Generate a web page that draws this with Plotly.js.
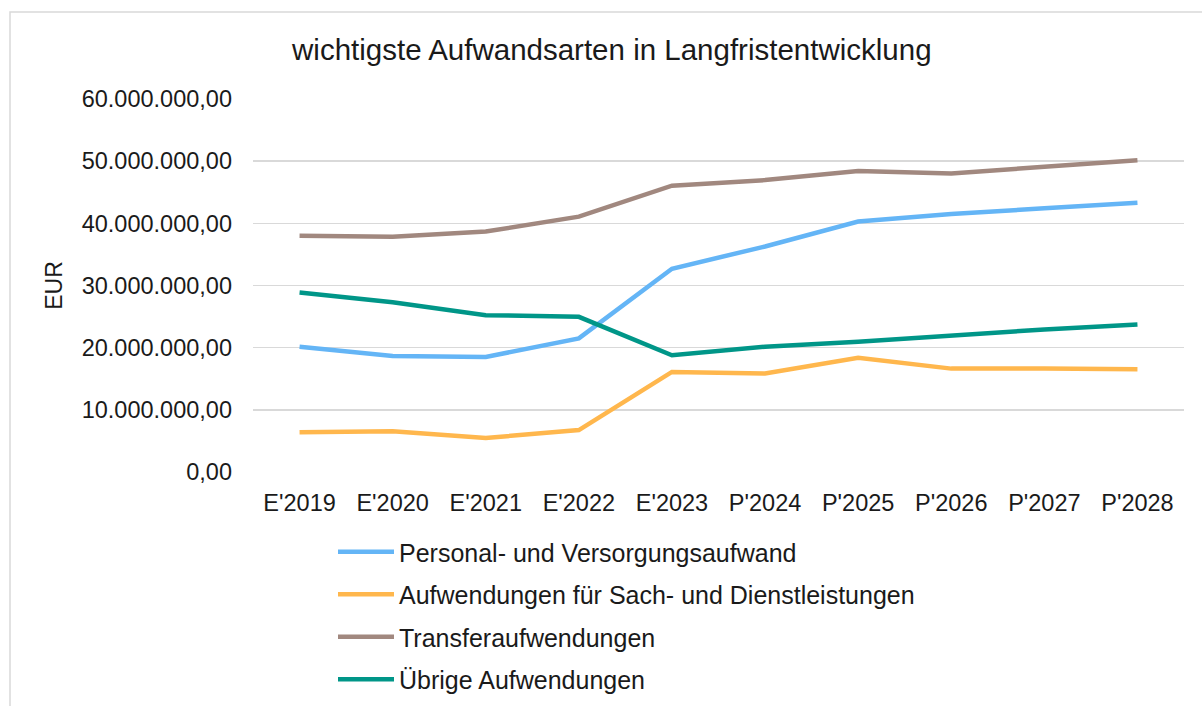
<!DOCTYPE html>
<html>
<head>
<meta charset="utf-8">
<script src="https://cdn.plot.ly/plotly-3.0.1.min.js"></script>
<style>
html,body{margin:0;padding:0;background:#fff;}
#chart{width:1202px;height:706px;}
</style>
</head>
<body>
<div id="chart"></div>
<script>
const categories = ["E'2019","E'2020","E'2021","E'2022","E'2023","P'2024","P'2025","P'2026","P'2027","P'2028"];
const personal = [20150000, 18660000, 18500000, 21490000, 32700000, 36280000, 40280000, 41510000, 42420000, 43330000];
const sach = [6380000, 6540000, 5470000, 6750000, 16100000, 15830000, 18390000, 16630000, 16630000, 16520000];
const transfer = [38000000, 37830000, 38680000, 41080000, 46050000, 46960000, 48400000, 48020000, 49100000, 50160000];
const uebrige = [28860000, 27310000, 25230000, 24960000, 18770000, 20150000, 20960000, 21970000, 22930000, 23730000];
const seriesNames = ["Personal- und Versorgungsaufwand", "Aufwendungen für Sach- und Dienstleistungen", "Transferaufwendungen", "Übrige Aufwendungen"];
const seriesColors = ["#64B5F6", "#FFB74D", "#A1887F", "#009688"];
const seriesValues = [personal, sach, transfer, uebrige];

const font = "Liberation Sans, Arial, sans-serif";
const txt = '#1a1a1a';
const traces = seriesValues.map((vals, i) => ({
  type: 'scatter', mode: 'lines',
  x: categories, y: vals, name: seriesNames[i],
  legendgroup: 'g' + i,
  line: {color: seriesColors[i], width: 4.5},
  hoverinfo: 'skip'
}));

const layout = {
  width: 1202, height: 706,
  paper_bgcolor: '#fff', plot_bgcolor: '#fff',
  margin: {l: 253, r: 18, t: 99, b: 234, autoexpand: false},
  separators: ',.',
  font: {family: font, size: 23, color: txt},
  title: {text: 'wichtigste Aufwandsarten in Langfristentwicklung', font: {family: font, size: 29.5, color: txt},
          xref: 'container', yref: 'container', x: 0.509, y: 1 - 50/706, xanchor: 'center', yanchor: 'middle'},
  xaxis: {type: 'category', range: [-0.5, 9.5], showgrid: false, zeroline: false, showline: false,
          ticks: '', ticklabelstandoff: 14, tickfont: {family: font, size: 23.5, color: txt}, fixedrange: true},
  yaxis: {range: [0, 60000000], dtick: 10000000, tickformat: ',.2f', showgrid: true, gridcolor: '#d9d9d9', gridwidth: 1.5,
          zeroline: false, showline: false, ticks: '', ticklabelstandoff: 20,
          tickfont: {family: font, size: 23.5, color: txt},
          title: {text: 'EUR', font: {family: font, size: 23, color: txt}, standoff: 12}, fixedrange: true},
  showlegend: true,
  legend: {orientation: 'v', x: (333 - 253) / 931, xanchor: 'left', y: (472 - 529) / 373, yanchor: 'top',
           font: {family: font, size: 25, color: txt}, itemwidth: 56, tracegroupgap: 7,
           traceorder: 'grouped', bgcolor: 'rgba(0,0,0,0)'},
  shapes: [{type: 'rect', xref: 'paper', yref: 'paper',
            x0: (10 - 253) / 931, x1: (1230 - 253) / 931, y0: (472 - 730) / 373, y1: (472 - 12) / 373,
            line: {color: '#d9d9d9', width: 1.5}, layer: 'below'}]
};

Plotly.newPlot('chart', traces, layout, {displayModeBar: false, staticPlot: true});
</script>
</body>
</html>
